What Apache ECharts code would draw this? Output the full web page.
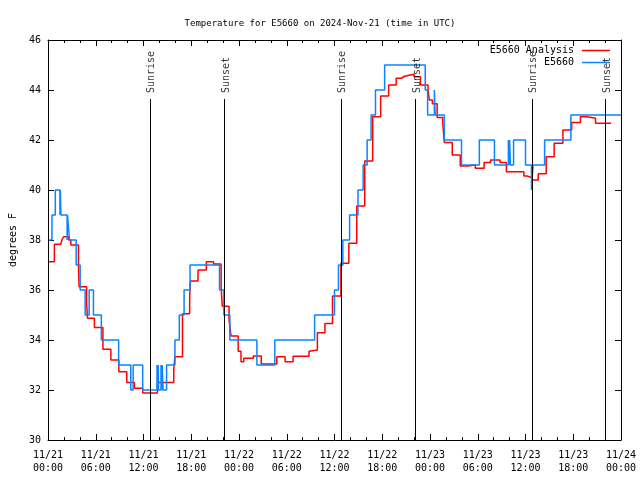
<!DOCTYPE html>
<html>
<head>
<meta charset="utf-8">
<script src="https://cdn.jsdelivr.net/npm/echarts@6/dist/echarts.min.js"></script>
<style>html,body{margin:0;padding:0;background:#fff;}#c{width:640px;height:480px;}</style>
</head>
<body>
<div id="c"></div>
<script>
// hours since 2024-11-21 00:00 UTC
const anaHours = [0.1,0.8,1.6,1.75,1.96,2.6,2.875,3.83,3.9,4.85,4.96,5.83,6.9,7.9,8.9,9.9,10.85,11.9,13.75,15.8,15.95,16.9,17.8,17.9,18.85,19.9,20.8,21.75,21.9,22.75,23.0,23.9,24.25,24.6,25.8,26.8,28.75,29.8,30.8,32.8,33.0,33.85,34.8,35.75,36.8,37.8,38.8,39.8,40.8,41.8,42.8,43.75,44.4,44.8,46.0,46.8,47.75,47.9,48.3,48.9,49.6,49.8,50.8,51.8,52.8,53.7,54.8,55.6,56.8,57.6,59.8,60.2,60.8,61.6,62.6,63.6,64.7,65.8,66.9,67.7,68.8,70.75];
const anaValues = [37.13,37.83,37.9,38.0,38.13,38.0,37.8,37.0,36.13,35.5,34.87,34.5,33.63,33.2,32.73,32.3,32.07,31.88,32.3,32.8,33.33,35.05,35.67,36.36,36.8,37.13,37.04,36.13,35.35,34.8,34.16,33.55,33.13,33.27,33.36,33.04,33.33,33.13,33.35,33.55,33.6,34.29,34.66,35.76,37.07,37.87,39.36,41.16,42.93,43.76,44.2,44.47,44.55,44.63,44.53,44.2,44.05,43.6,43.45,42.9,42.67,41.9,41.4,40.96,41.0,40.87,41.1,41.2,41.1,40.73,40.56,40.5,40.4,40.65,41.33,41.87,42.4,42.7,42.93,42.87,42.67,42.67];

const obsHours = [0.1,0.5,0.92,1.5,1.55,1.625,2.4,2.45,2.7,3.54,4.04,4.67,5.17,5.71,6.7,8.875,10.4,10.7,11.9,13.7,13.75,13.85,13.9,14.2,14.25,14.35,14.45,14.9,15.95,16.5,17.1,17.85,21.55,22.1,22.85,26.25,28.5,33.5,36.0,36.5,37.05,37.9,38.95,39.6,40.1,40.6,41.15,42.3,47.4,47.7,48.55,48.65,49.8,51.96,54.2,56.1,57.85,57.95,58.0,58.1,58.5,60.0,60.75,60.95,62.4,65.7,72];
const obsValues = [38,39,40,39,40,39,38,39,38,37,36,35,36,35,34,33,32,33,32,33,32,33,32,33,32,33,32,33,34,35,36,37,36,35,34,33,34,35,36,37,38,39,40,41,42,43,44,45,44,43,44,43,42,41,42,41,42,41,42,41,42,41,40,41,42,43,43];

const sunHours = [12.79,22.17,36.79,46.12,60.79,70.04];
const sunNames = ['Sunrise','Sunset','Sunrise','Sunset','Sunrise','Sunset'];
const sunLineTop = 43.64;

const yTicks = [30,32,34,36,38,40,42,44,46];

const FONT = 'DejaVu Sans Mono';
function pairs(h, v){ return h.map((x,i)=>[x, v[i]]); }
function xLabel(h){
  const d = 21 + Math.floor(h/24);
  const hh = Math.round(h%24);
  return '11/' + d + '\n' + String(hh).padStart(2,'0') + ':00';
}

const chart = echarts.init(document.getElementById('c'), null, {renderer:'canvas'});
const axisCommon = {
  min: 0, max: 72, interval: 6, type: 'value',
  axisLine: {show: true, onZero: false, lineStyle: {color: '#000', width: 1}},
  axisTick: {show: true, inside: true, length: 6, lineStyle: {color: '#000'}},
  minorTick: {show: true, splitNumber: 3, length: 3, lineStyle: {color: '#000'}},
  splitLine: {show: false}
};
const yCommon = {
  type: 'value', min: yTicks[0], max: yTicks[yTicks.length-1], interval: 2,
  axisLine: {show: true, onZero: false, lineStyle: {color: '#000', width: 1}},
  axisTick: {show: true, inside: true, length: 6, lineStyle: {color: '#000'}},
  splitLine: {show: false}
};
const legendCommon = {
  right: 30, orient: 'vertical', align: 'right', padding: 0,
  icon: 'rect', itemWidth: 28, itemHeight: 1.5,
  textStyle: {fontFamily: FONT, fontSize: 10, color: '#000', padding: [0,3,0,0]}
};
chart.setOption({
  animation: false,
  backgroundColor: '#fff',
  title: {
    text: 'Temperature for E5660 on 2024-Nov-21 (time in UTC)',
    left: 'center', top: 14,
    textStyle: {fontFamily: FONT, fontSize: 9, fontWeight: 'normal', color: '#000'}
  },
  legend: [
    Object.assign({}, legendCommon, {data: ['E5660 Analysis'], top: 45.5}),
    Object.assign({}, legendCommon, {data: ['E5660'], top: 57.5})
  ],
  grid: {left: 45, right: 19, top: 40, bottom: 40, containLabel: false},
  xAxis: [
    Object.assign({}, axisCommon, {position: 'bottom',
      axisLabel: {show: true, formatter: xLabel, fontFamily: FONT, fontSize: 10, color: '#000', lineHeight: 13, margin: 9}}),
    Object.assign({}, axisCommon, {position: 'top', axisLabel: {show: false}})
  ],
  yAxis: [
    Object.assign({}, yCommon, {position: 'left', name: 'degrees F', nameLocation: 'middle', nameGap: 30,
      nameTextStyle: {fontFamily: FONT, fontSize: 10, color: '#000'},
      axisLabel: {show: true, fontFamily: FONT, fontSize: 10, color: '#000', margin: 7}}),
    Object.assign({}, yCommon, {position: 'right', axisLabel: {show: false}})
  ],
  series: [
    {name: 'E5660 Analysis', type: 'line', step: 'end', symbol: 'none', data: pairs(anaHours, anaValues),
     lineStyle: {color: '#ff0000', width: 1.5}, itemStyle: {color: '#ff0000'}, z: 2},
    {name: 'E5660', type: 'line', step: 'end', symbol: 'none', data: pairs(obsHours, obsValues),
     lineStyle: {color: '#0a84ff', width: 1.5}, itemStyle: {color: '#0a84ff'}, z: 3},
    {name: 'sun', type: 'scatter', symbolSize: 0, z: 5, silent: true,
     data: sunHours.map((h,i)=>({name: sunNames[i], value: [h, sunLineTop]})),
     label: {show: true, formatter: '{b}', rotate: 90, position: 'top', distance: 6, align: 'left', verticalAlign: 'middle',
       offset: [0, 2], fontFamily: FONT, fontSize: 10, color: '#000'},
     markLine: {silent: true, symbol: ['none','none'], label: {show: false},
       lineStyle: {color: '#000', width: 1, type: 'solid'},
       data: sunHours.map(h => [{coord: [h, yTicks[0]]}, {coord: [h, sunLineTop]}])}
    }
  ]
});
</script>
</body>
</html>
